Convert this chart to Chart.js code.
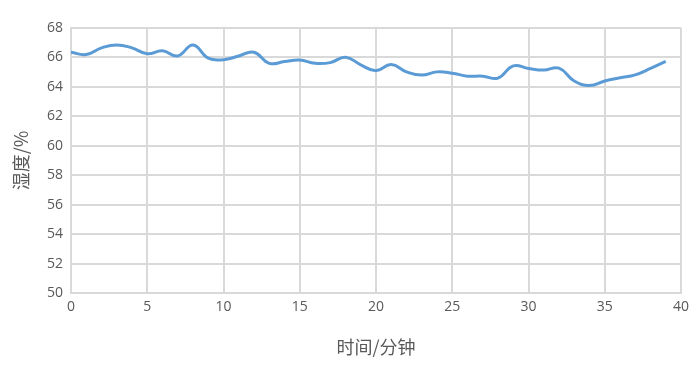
<!DOCTYPE html>
<html>
<head>
<meta charset="utf-8">
<script src="https://cdn.jsdelivr.net/npm/chart.js@4/dist/chart.umd.min.js"></script>
<style>
  html, body { margin: 0; padding: 0; background: #fff; }
  #wrap { width: 700px; height: 368px; }
</style>
</head>
<body>
<div id="wrap"><canvas id="chart" width="700" height="368"></canvas></div>
<script>
const minutes = [0, 1, 2, 3, 4, 5, 6, 7, 8, 9, 10, 11, 12, 13, 14, 15, 16, 17, 18, 19,
                 20, 21, 22, 23, 24, 25, 26, 27, 28, 29, 30, 31, 32, 33, 34, 35, 36, 37, 38, 39];
const humidity = [66.35, 66.2, 66.65, 66.85, 66.65, 66.25, 66.45, 66.1, 66.85, 65.95,
                  65.85, 66.1, 66.35, 65.6, 65.72, 65.82, 65.6, 65.65, 66.02, 65.5,
                  65.1, 65.52, 65.02, 64.8, 65.02, 64.93, 64.73, 64.73, 64.6, 65.43,
                  65.25, 65.14, 65.27, 64.4, 64.1, 64.4, 64.62, 64.82, 65.25, 65.73];
const xTitle = '时间/分钟';
const yTitle = '湿度/%';

const points = minutes.map((m, i) => ({ x: m, y: humidity[i] }));

const ctx = document.getElementById('chart').getContext('2d');
Chart.defaults.font.family = "'Open Sans', 'Noto Sans CJK SC', sans-serif";
Chart.defaults.color = '#595959';

new Chart(ctx, {
    type: 'line',
    data: {
        datasets: [{
            data: points,
            borderColor: '#5b9bd5',
            borderWidth: 3,
            pointRadius: 0,
            tension: 0.45,
            fill: false
        }]
    },
    options: {
        responsive: false,
        animation: false,
        layout: { padding: { left: 0, right: 19, top: 28, bottom: 0 } },
        plugins: { legend: { display: false }, tooltip: { enabled: false } },
        scales: {
            x: {
                type: 'linear',
                min: 0,
                max: 40,
                ticks: { stepSize: 5, font: { size: 14 }, padding: 6 },
                grid: { color: '#d9d9d9', lineWidth: 2, drawTicks: false },
                border: { color: '#d9d9d9', width: 2 },
                title: {
                    display: true,
                    text: xTitle,
                    font: { size: 18, family: "'Noto Sans CJK SC', sans-serif" },
                    padding: { top: 4, bottom: 10 }
                },
                afterFit: (scale) => { scale.height = 75; }
            },
            y: {
                min: 50,
                max: 68,
                ticks: { stepSize: 2, font: { size: 14 }, padding: 8 },
                grid: { color: '#d9d9d9', lineWidth: 2, drawTicks: false },
                border: { color: '#d9d9d9', width: 2 },
                title: {
                    display: true,
                    text: yTitle,
                    font: { size: 18, family: "'Noto Sans CJK SC', serif" },
                    padding: { top: 10, bottom: 0 }
                },
                afterFit: (scale) => { scale.width = 71; }
            }
        }
    }
});
</script>
</body>
</html>
